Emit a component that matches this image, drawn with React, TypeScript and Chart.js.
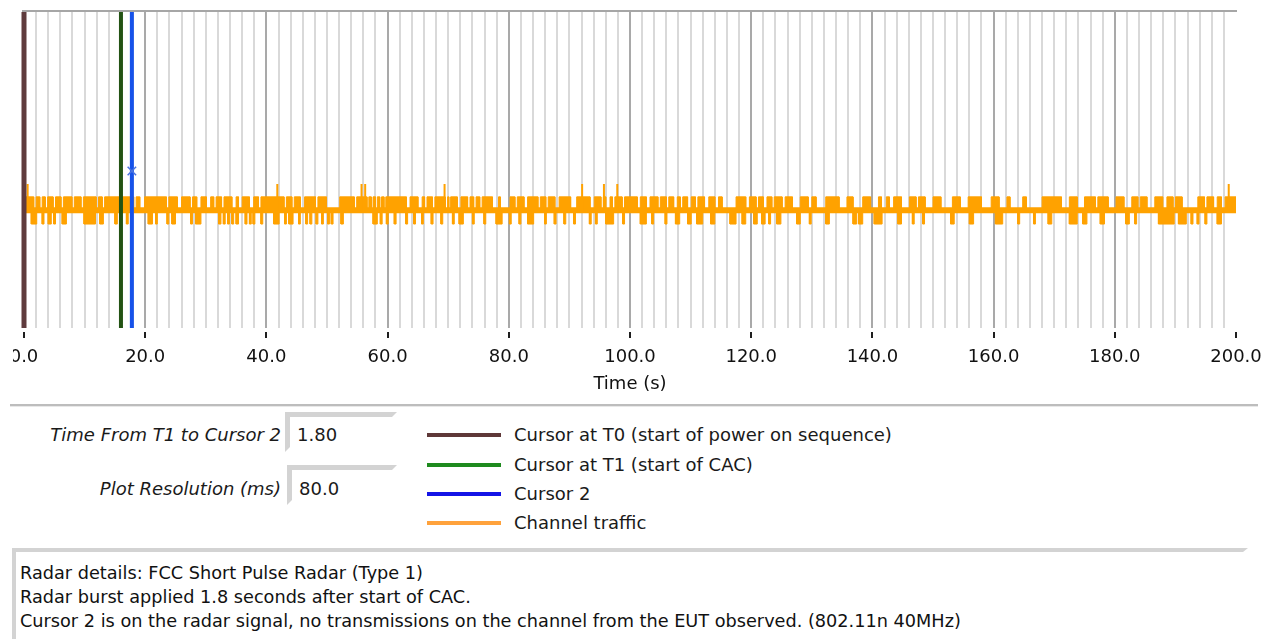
import React, { useEffect, useRef } from "react";
import { Chart, registerables } from "chart.js";

Chart.register(...registerables);

// ---------- data ----------
const X_MIN = 0;
const X_MAX = 200;
const MINOR_STEP = 2;
const MAJOR_TICK_VALUES = [0, 20, 40, 60, 80, 100, 120, 140, 160, 180, 200];
const MAJOR_TICK_LABELS = ["0.0", "20.0", "40.0", "60.0", "80.0", "100.0", "120.0", "140.0", "160.0", "180.0", "200.0"];
const X_TITLE = "Time (s)";

const CURSOR_T0 = 0;
const CURSOR_T1 = 16.0;
const CURSOR_2 = 17.8;
const CURSOR_2_MARK_LEVEL = 49.7;

// channel traffic levels (arbitrary units on hidden axis 0..100)
const LEVEL_BASE = 37.3;
const LEVEL_UP = 41.5;
const LEVEL_DOWN = 32.9;
const LEVEL_SPIKE = 45.6;
const TRAFFIC_START = 0.3;
const TRAFFIC_END = 200;

// intervals (s) where the upper traffic band is absent
const UP_GAPS: number[][] = [
  [1.6, 2.0], [2.6, 3.0], [3.5, 3.9], [4.8, 5.2], [6.1, 6.5], [7.9, 8.3], [9.4, 9.8], [11.9, 12.3], [12.9, 13.3],
  [18.1, 18.5], [19.1, 19.9], [23.5, 23.9], [25.3, 26.0], [27.4, 27.8], [28.5, 29.2], [30.1, 30.8], [31.3, 31.7],
  [32.6, 33.0], [34.3, 35.0], [35.4, 36.0], [37.2, 37.9], [38.7, 39.1], [42.9, 43.3], [44.2, 44.6], [45.6, 46.3],
  [48.1, 48.5], [49.9, 52.1], [54.5, 54.9], [56.6, 56.9], [57.3, 57.6], [58.0, 58.3], [58.7, 59.0], [59.4, 59.7],
  [63.1, 63.7], [65.0, 65.7], [66.1, 66.5], [67.4, 67.8], [69.5, 69.9], [70.1, 70.4], [71.5, 72.1], [73.2, 73.6],
  [74.2, 74.6], [75.2, 75.6], [77.3, 78.3], [78.6, 80.2], [81.0, 81.4], [82.5, 83.1], [84.8, 85.2], [86.1, 86.5],
  [87.6, 88.3], [90.2, 91.2], [93.4, 94.1], [95.2, 95.6], [96.0, 96.7], [97.1, 97.5], [98.7, 99.1],
  [101.2, 101.7], [102.7, 103.3], [104.6, 105.0], [106.0, 106.4], [107.2, 107.8], [108.3, 108.7], [109.5, 110.1],
  [110.8, 111.2], [112.3, 113.0], [114.0, 114.6], [115.2, 117.5], [119.1, 119.7], [120.8, 121.2], [122.0, 122.6],
  [123.4, 123.8], [125.1, 125.6], [126.8, 128.1], [129.4, 130.0], [130.7, 132.3], [134.5, 135.8], [136.8, 138.4],
  [139.7, 141.0], [141.5, 142.3], [142.8, 143.5], [144.8, 146.1], [147.2, 147.6], [148.7, 150.0], [151.3, 153.2],
  [154.5, 155.8], [158.0, 159.6], [160.9, 162.2], [162.7, 164.8], [165.4, 168.0], [171.2, 172.5], [173.8, 175.0],
  [176.8, 177.2], [178.9, 180.2], [181.5, 182.8], [183.8, 184.2], [185.3, 186.6], [187.9, 188.6], [189.6, 190.0],
  [191.1, 193.7], [194.8, 195.2], [196.3, 196.9], [197.6, 198.2],
];

// intervals (s) where the lower traffic band is present
const DOWN_BARS: number[][] = [
  [1.2, 2.1], [3.0, 3.3], [4.0, 4.5], [4.9, 5.2], [6.3, 7.0], [9.9, 11.8], [12.5, 13.1], [15.0, 15.4], [16.9, 17.2],
  [20.5, 21.2], [21.7, 22.0], [23.6, 23.9], [24.4, 25.0], [27.5, 27.8], [28.3, 29.2], [32.1, 32.5], [32.9, 33.2],
  [33.6, 33.9], [34.3, 34.6], [35.0, 35.4], [36.5, 36.8], [37.2, 37.5], [37.8, 38.1], [39.1, 39.4], [41.2, 42.1],
  [43.0, 43.3], [43.7, 44.4], [45.3, 45.6], [46.5, 46.8], [47.2, 47.5], [48.2, 48.5], [49.1, 49.4], [50.1, 50.4],
  [50.7, 51.0], [52.3, 52.7], [57.6, 58.3], [58.8, 59.1], [59.8, 60.1], [61.1, 61.4], [63.0, 63.3], [64.3, 64.6],
  [65.6, 65.9], [67.2, 67.5], [68.8, 69.1], [70.7, 71.0], [71.8, 72.5], [74.0, 74.3], [75.9, 76.2], [77.9, 78.9],
  [80.1, 80.4], [81.7, 82.0], [83.1, 84.1], [85.9, 86.2], [87.5, 87.8], [89.1, 89.4], [90.7, 91.0], [93.3, 93.6],
  [94.3, 94.6], [96.0, 97.3], [98.8, 99.1],
  [101.7, 102.7], [103.6, 103.9], [105.8, 106.1], [107.5, 108.2], [109.5, 110.1], [111.0, 112.0], [113.3, 114.0],
  [116.5, 117.5], [118.5, 119.1], [120.4, 121.0], [121.7, 122.3], [122.9, 123.2], [124.2, 124.9], [127.5, 128.1],
  [129.6, 129.9], [132.3, 132.9], [136.8, 137.4], [137.7, 138.4], [140.3, 141.6], [144.2, 144.8], [146.6, 146.9],
  [148.3, 148.6], [152.9, 153.5], [156.0, 156.7], [160.3, 161.5], [164.0, 164.3], [166.6, 166.9], [169.0, 169.6],
  [172.5, 173.8], [174.7, 175.4], [177.6, 178.3], [181.8, 182.4], [183.3, 183.6], [187.2, 189.8], [190.5, 191.8],
  [192.6, 192.9], [193.6, 193.9], [194.9, 195.2], [196.9, 197.6],
];

// isolated taller traffic spikes (s)
const TALL_SPIKES = [0.6, 41.8, 55.7, 56.3, 69.4, 92.1, 95.7, 97.9, 198.8];

const LEGEND_ITEMS = [
  { label: "Cursor at T0 (start of power on sequence)", color: "#5e3838" },
  { label: "Cursor at T1 (start of CAC)", color: "#1e8a1e" },
  { label: "Cursor 2", color: "#1414e6" },
  { label: "Channel traffic", color: "#ffa23c" },
];

const FIELD_LABELS = ["Time From T1 to Cursor 2", "Plot Resolution (ms)"];
const FIELD_VALUES = ["1.80", "80.0"];

const RADAR_TEXT = [
  "Radar details: FCC Short Pulse Radar (Type 1)",
  "Radar burst applied 1.8 seconds after start of CAC.",
  "Cursor 2 is on the radar signal, no transmissions on the channel from the EUT observed. (802.11n 40MHz)",
];

// ---------- styles ----------
const FONT = "'DejaVu Sans', 'Liberation Sans', sans-serif";
const ORANGE = "#ffa200";

function upEnvelope() {
  const pts: { x: number; y: number }[] = [{ x: TRAFFIC_START, y: LEVEL_UP }];
  for (const [a, b] of UP_GAPS) {
    pts.push({ x: a, y: LEVEL_UP }, { x: a, y: LEVEL_BASE }, { x: b, y: LEVEL_BASE }, { x: b, y: LEVEL_UP });
  }
  pts.push({ x: TRAFFIC_END, y: LEVEL_UP });
  return pts;
}

function downEnvelope() {
  const pts: { x: number; y: number }[] = [{ x: TRAFFIC_START, y: LEVEL_BASE }];
  for (const [a, b] of DOWN_BARS) {
    pts.push({ x: a, y: LEVEL_BASE }, { x: a, y: LEVEL_DOWN }, { x: b, y: LEVEL_DOWN }, { x: b, y: LEVEL_BASE });
  }
  pts.push({ x: TRAFFIC_END, y: LEVEL_BASE });
  return pts;
}

function spikeSegments() {
  const pts: { x: number; y: number | null }[] = [];
  for (const t of TALL_SPIKES) {
    pts.push({ x: t, y: LEVEL_BASE }, { x: t, y: LEVEL_SPIKE }, { x: t, y: null });
  }
  return pts;
}

const framePlugin = {
  id: "frame",
  afterDraw(chart: any) {
    const ctx = chart.ctx;
    const area = chart.chartArea;
    const xs = chart.scales.x;
    ctx.save();
    ctx.strokeStyle = "#1e1e1e";
    ctx.lineWidth = 2;
    ctx.beginPath();
    for (let i = 0; i < MAJOR_TICK_VALUES.length; i++) {
      const px = Math.round(xs.getPixelForValue(MAJOR_TICK_VALUES[i]));
      ctx.moveTo(px, area.bottom + 4);
      ctx.lineTo(px, area.bottom + 10);
    }
    ctx.stroke();
    ctx.restore();
  },
  beforeDatasetsDraw(chart: any) {
    const { ctx, chartArea } = chart;
    ctx.save();
    ctx.fillStyle = "#a6a6a6";
    ctx.fillRect(chartArea.left - 2, chartArea.top - 2, chartArea.right - chartArea.left + 3, 2);
    ctx.restore();
  },
};

function TrafficChart() {
  const ref = useRef<HTMLCanvasElement | null>(null);
  useEffect(() => {
    if (!ref.current) return;
    const cursor = (x: number, color: string, w: number) => ({
      data: [{ x, y: 0 }, { x, y: 100 }],
      borderColor: color,
      borderWidth: w,
      pointRadius: 0,
      fill: false,
      clip: false,
    });
    const chart = new Chart(ref.current, {
      type: "line",
      data: {
        datasets: [
          {
            data: [{ x: CURSOR_2, y: CURSOR_2_MARK_LEVEL }],
            showLine: false,
            pointStyle: "crossRot",
            pointRadius: 6,
            pointBorderColor: "#4a74e0",
            pointBorderWidth: 1.5,
            borderColor: "#4a74e0",
          },
          cursor(CURSOR_2, "#1652ea", 4),
          cursor(CURSOR_T1, "#235314", 4),
          cursor(CURSOR_T0, "#5f3b3d", 5),
          {
            data: spikeSegments(),
            borderColor: ORANGE,
            borderWidth: 2,
            pointRadius: 0,
            spanGaps: false,
            fill: false,
          },
          {
            data: [{ x: TRAFFIC_START, y: LEVEL_BASE }, { x: TRAFFIC_END, y: LEVEL_BASE }],
            borderColor: ORANGE,
            borderWidth: 6,
            pointRadius: 0,
            fill: false,
          },
          {
            data: upEnvelope(),
            borderColor: ORANGE,
            backgroundColor: ORANGE,
            borderWidth: 1,
            pointRadius: 0,
            fill: { value: LEVEL_BASE },
          },
          {
            data: downEnvelope(),
            borderColor: ORANGE,
            backgroundColor: ORANGE,
            borderWidth: 1,
            pointRadius: 0,
            fill: { value: LEVEL_BASE },
          },
        ] as any,
      },
      options: {
        animation: false,
        responsive: false,
        events: [],
        layout: { padding: { left: 24, right: 34, top: 12, bottom: 0 } },
        elements: { line: { tension: 0 } },
        plugins: {
          legend: { display: false },
          tooltip: { enabled: false },
          title: { display: false },
        },
        scales: {
          x: {
            type: "linear",
            min: X_MIN,
            max: X_MAX,
            offset: false,
            afterFit: (s: any) => {
              s.height = 72;
            },
            border: { display: false },
            grid: {
              lineWidth: 2,
              drawTicks: true,
              tickLength: 19,
              tickColor: "rgba(0,0,0,0)",
              color: (c: any) => {
                const v = c.tick ? c.tick.value : 0;
                if (v === X_MIN || v === X_MAX) return "rgba(0,0,0,0)";
                return MAJOR_TICK_VALUES.indexOf(v) >= 0 ? "#a9a9a9" : "#d9d9d9";
              },
            },
            ticks: {
              stepSize: MINOR_STEP,
              autoSkip: false,
              maxRotation: 0,
              minRotation: 0,
              padding: 0,
              color: "#111111",
              font: { family: FONT, size: 18 },
              callback: (v: any) => {
                const i = MAJOR_TICK_VALUES.indexOf(Number(v));
                return i >= 0 ? MAJOR_TICK_LABELS[i] : "";
              },
            },
            title: {
              display: true,
              text: X_TITLE,
              color: "#111111",
              font: { family: FONT, size: 18 },
              padding: { top: 0, bottom: 5 },
            },
          },
          y: { display: false, min: 0, max: 100 },
        },
      } as any,
      plugins: [framePlugin],
    });
    return () => chart.destroy();
  }, []);
  return (
    <div style={{ position: "absolute", left: 13, top: 0, width: 1257, height: 400, overflow: "hidden" }}>
      <canvas ref={ref} width={1270} height={400} style={{ position: "absolute", left: -13, top: 0, width: 1270, height: 400 }} />
    </div>
  );
}

const sunken = (left: number, top: number, width: number, height: number): React.CSSProperties => ({
  position: "absolute",
  left,
  top,
  width,
  height,
  boxSizing: "border-box",
  borderTop: "5px solid #d3d3d3",
  borderLeft: "5px solid #d3d3d3",
  borderRight: "5px solid #ffffff",
  borderBottom: "5px solid #ffffff",
  background: "#ffffff",
});

export default function App() {
  const fieldCenters = [435, 489];
  const fieldBoxTops = [412, 465];
  const legendCenters = [435, 465, 494, 523];
  return (
    <div style={{ position: "fixed", left: 0, top: 0, width: 1270, height: 639, background: "#ffffff", fontFamily: FONT, fontSize: 18, color: "#1a1a1a", overflow: "hidden" }}>
      <TrafficChart />
      <div style={{ position: "absolute", left: 10, top: 404, width: 1248, height: 0, borderTop: "2px solid #bdbdbd", borderBottom: "1px solid #e8e8e8" }} />

      {FIELD_LABELS.map((lab, i) => (
        <div key={lab} style={{ position: "absolute", left: 0, width: 281, top: fieldCenters[i] - 12, lineHeight: "24px", textAlign: "right", fontStyle: "italic", whiteSpace: "nowrap" }}>
          {lab}
        </div>
      ))}
      {FIELD_VALUES.map((val, i) => (
        <div key={val} style={sunken(285 + i * 2, fieldBoxTops[i], 112 - i * 2, 40)}>
          <div style={{ position: "absolute", left: 7, top: fieldCenters[i] - fieldBoxTops[i] - 5 - 12, lineHeight: "24px", whiteSpace: "nowrap" }}>{val}</div>
        </div>
      ))}

      {LEGEND_ITEMS.map((it, i) => (
        <React.Fragment key={it.label}>
          <div style={{ position: "absolute", left: 427, top: legendCenters[i] - 2, width: 74, height: 4, background: it.color }} />
          <div style={{ position: "absolute", left: 514, top: legendCenters[i] - 12, lineHeight: "24px", whiteSpace: "nowrap" }}>{it.label}</div>
        </React.Fragment>
      ))}

      <div style={{ ...sunken(12, 548, 1236, 110), borderTopWidth: 4, borderLeftWidth: 4 }}>
        <div style={{ position: "absolute", left: 4, top: 9, lineHeight: "24px", color: "#111", fontSize: 17.7 }}>
          {RADAR_TEXT.map((t) => (
            <div key={t} style={{ whiteSpace: "nowrap" }}>{t}</div>
          ))}
        </div>
      </div>
    </div>
  );
}
